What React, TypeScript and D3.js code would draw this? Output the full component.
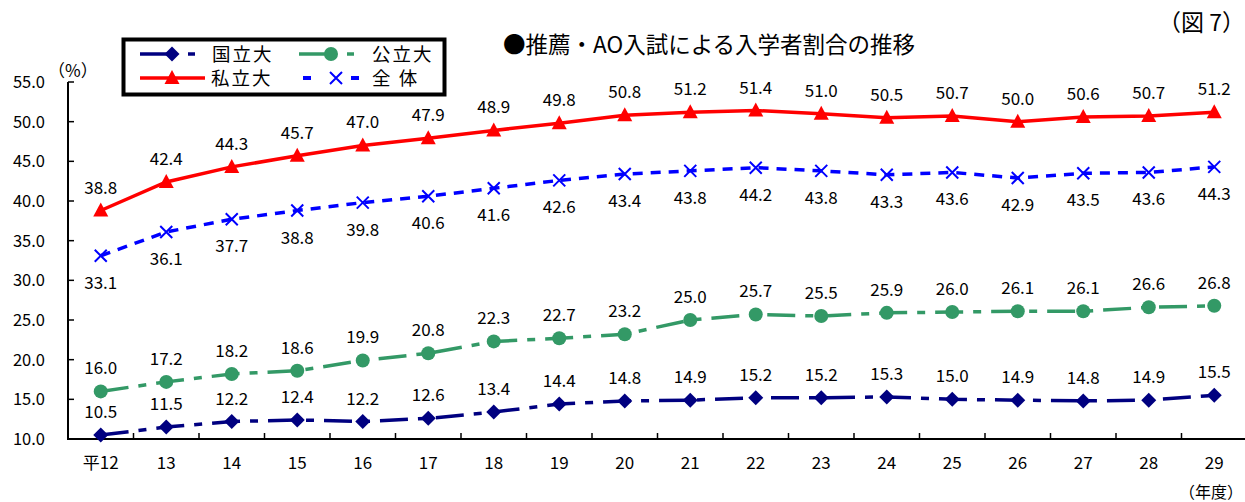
import React, { useEffect, useRef } from 'react';
import * as d3 from 'd3';

const years = ['平12', '13', '14', '15', '16', '17', '18', '19', '20', '21', '22', '23', '24', '25', '26', '27', '28', '29'];
const national = [10.5, 11.5, 12.2, 12.4, 12.2, 12.6, 13.4, 14.4, 14.8, 14.9, 15.2, 15.2, 15.3, 15.0, 14.9, 14.8, 14.9, 15.5];
const publicU = [16.0, 17.2, 18.2, 18.6, 19.9, 20.8, 22.3, 22.7, 23.2, 25.0, 25.7, 25.5, 25.9, 26.0, 26.1, 26.1, 26.6, 26.8];
const privateU = [38.8, 42.4, 44.3, 45.7, 47.0, 47.9, 48.9, 49.8, 50.8, 51.2, 51.4, 51.0, 50.5, 50.7, 50.0, 50.6, 50.7, 51.2];
const overall = [33.1, 36.1, 37.7, 38.8, 39.8, 40.6, 41.6, 42.6, 43.4, 43.8, 44.2, 43.8, 43.3, 43.6, 42.9, 43.5, 43.6, 44.3];
const yTicks = [10, 15, 20, 25, 30, 35, 40, 45, 50, 55];

const FONT = "'Noto Sans CJK JP', 'Noto Sans', sans-serif";

type Series = { name: string; values: number[]; color: string; dash: string; marker: string; labelPos: 'above' | 'below' };

const series: Series[] = [
  { name: '国立大', values: national, color: '#000080', dash: '28,10,8,10', marker: 'diamond', labelPos: 'above' },
  { name: '公立大', values: publicU, color: '#339966', dash: '28,10,8,10', marker: 'circle', labelPos: 'above' },
  { name: '私立大', values: privateU, color: '#ff0000', dash: '', marker: 'triangle', labelPos: 'above' },
  { name: '全 体', values: overall, color: '#0000ff', dash: '10,8', marker: 'cross', labelPos: 'below' },
];

function drawMarker(g: d3.Selection<SVGGElement, unknown, null, undefined>, kind: string, x: number, y: number, color: string) {
  if (kind === 'diamond') {
    g.append('path').attr('d', `M${x},${y - 7.5}L${x + 7.5},${y}L${x},${y + 7.5}L${x - 7.5},${y}Z`).attr('fill', color);
  } else if (kind === 'circle') {
    g.append('circle').attr('cx', x).attr('cy', y).attr('r', 7).attr('fill', color);
  } else if (kind === 'triangle') {
    g.append('path').attr('d', `M${x},${y - 8}L${x + 7.5},${y + 6}L${x - 7.5},${y + 6}Z`).attr('fill', color);
  } else {
    g.append('path').attr('d', `M${x - 6},${y - 6}L${x + 6},${y + 6}M${x + 6},${y - 6}L${x - 6},${y + 6}`)
      .attr('stroke', color).attr('stroke-width', 2).attr('fill', 'none');
  }
}

const App: React.FC = () => {
  const svgRef = useRef<SVGSVGElement>(null);

  useEffect(() => {
    if (!svgRef.current) return;
    const svg = d3.select(svgRef.current);
    svg.selectAll('*').remove();

    const left = 68, right = 1247, top = 82, bottom = 439;

    const x = d3.scaleBand().domain(years).range([left, right]);
    const cx = (i: number) => x(years[i])! + x.bandwidth() / 2;
    const y = d3.scaleLinear().domain([10, 55]).range([bottom, top]);

    // axes
    const axes = svg.append('g');
    axes.append('line').attr('x1', left).attr('x2', left).attr('y1', top).attr('y2', bottom + 1)
      .attr('stroke', '#000').attr('stroke-width', 2);
    axes.append('line').attr('x1', left).attr('x2', right).attr('y1', bottom).attr('y2', bottom)
      .attr('stroke', '#000').attr('stroke-width', 2);

    yTicks.forEach(t => {
      axes.append('line').attr('x1', left).attr('x2', left + 6).attr('y1', y(t)).attr('y2', y(t))
        .attr('stroke', '#000').attr('stroke-width', 1.5);
      axes.append('text').attr('x', 45).attr('y', y(t)).attr('dy', '0.36em').attr('text-anchor', 'end')
        .attr('font-family', FONT).attr('font-size', 16.5).attr('fill', '#000').text(t.toFixed(1));
    });

    years.forEach((yr, i) => {
      if (i > 0) {
        const tx = x(yr)!;
        axes.append('line').attr('x1', tx).attr('x2', tx).attr('y1', bottom).attr('y2', bottom - 6)
          .attr('stroke', '#000').attr('stroke-width', 1.5);
      }
      axes.append('text').attr('x', cx(i)).attr('y', 469).attr('text-anchor', 'middle')
        .attr('font-family', FONT).attr('font-size', 17).attr('fill', '#000').text(yr);
    });

    svg.append('text').attr('x', 48).attr('y', 77).attr('font-family', FONT).attr('font-size', 17)
      .attr('fill', '#000').text('（%）');
    svg.append('text').attr('x', 1243).attr('y', 498).attr('text-anchor', 'end').attr('font-family', FONT)
      .attr('font-size', 16).attr('fill', '#000').text('（年度）');

    // series
    const line = d3.line<number>().x((_, i) => cx(i)).y(d => y(d));
    series.forEach(s => {
      const g = svg.append('g');
      g.append('path').attr('d', line(s.values)).attr('fill', 'none').attr('stroke', s.color)
        .attr('stroke-width', 3.5).attr('stroke-dasharray', s.dash || null);
      s.values.forEach((v, i) => drawMarker(g, s.marker, cx(i), y(v), s.color));
      s.values.forEach((v, i) => {
        g.append('text').attr('x', cx(i)).attr('y', s.labelPos === 'above' ? y(v) - 17 : y(v) + 33)
          .attr('text-anchor', 'middle').attr('font-family', FONT).attr('font-size', 17).attr('fill', '#000')
          .text(v.toFixed(1));
      });
    });

    // title
    svg.append('text').attr('x', 709).attr('y', 53).attr('text-anchor', 'middle').attr('font-family', FONT)
      .attr('font-size', 22.5).attr('fill', '#000').text('●推薦・AO入試による入学者割合の推移');
    svg.append('text').attr('x', 1158).attr('y', 31).attr('font-family', FONT).attr('font-size', 23)
      .attr('fill', '#000').text('（図 7）');

    // legend
    const lg = svg.append('g');
    lg.append('rect').attr('x', 123.5).attr('y', 39.5).attr('width', 321).attr('height', 55)
      .attr('fill', '#fff').attr('stroke', '#000').attr('stroke-width', 4);
    const legendItems = [
      { s: series[0], lx: 140, ly: 54, tx: 212 },
      { s: series[1], lx: 299, ly: 54, tx: 372 },
      { s: series[2], lx: 140, ly: 78, tx: 211 },
      { s: series[3], lx: 299, ly: 78, tx: 372 },
    ];
    legendItems.forEach(({ s, lx, ly, tx }) => {
      const mx = s.marker === 'cross' ? lx + 37 : lx + 32;
      if (s.marker === 'cross') {
        lg.append('line').attr('x1', lx + 4).attr('x2', lx + 12).attr('y1', ly).attr('y2', ly).attr('stroke', s.color).attr('stroke-width', 4);
        lg.append('line').attr('x1', lx + 52).attr('x2', lx + 60).attr('y1', ly).attr('y2', ly).attr('stroke', s.color).attr('stroke-width', 4);
      } else if (s.marker === 'triangle') {
        lg.append('line').attr('x1', lx).attr('x2', lx + 65).attr('y1', ly).attr('y2', ly).attr('stroke', s.color).attr('stroke-width', 3.5);
      } else {
        lg.append('line').attr('x1', lx).attr('x2', lx + 32).attr('y1', ly).attr('y2', ly).attr('stroke', s.color).attr('stroke-width', 3.5);
        lg.append('line').attr('x1', lx + 48).attr('x2', lx + 55).attr('y1', ly).attr('y2', ly).attr('stroke', s.color).attr('stroke-width', 3.5);
      }
      drawMarker(lg, s.marker, mx, ly, s.color);
      lg.append('text').attr('x', tx).attr('y', ly).attr('dy', '0.36em').attr('font-family', FONT).attr('font-size', 18.5)
        .attr('letter-spacing', 2).attr('fill', '#000').text(s.name);
    });
  }, []);

  return (
    <svg ref={svgRef} width={1245} height={502} style={{ display: 'block', position: 'absolute', left: 0, top: 0, background: '#fff' }} />
  );
};

export default App;
